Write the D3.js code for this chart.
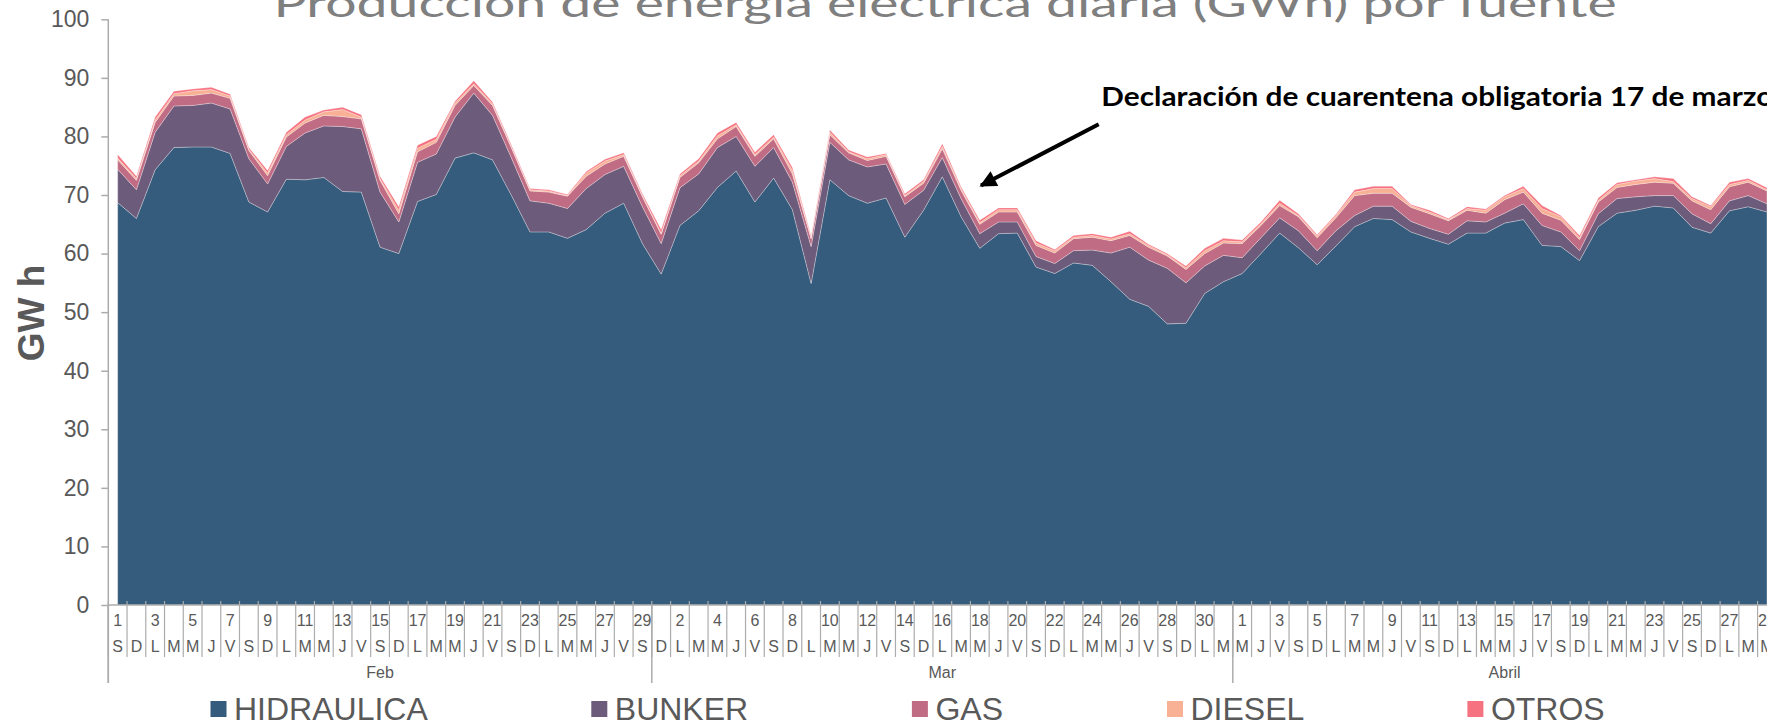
<!DOCTYPE html>
<html><head><meta charset="utf-8">
<script src="https://cdn.jsdelivr.net/npm/d3@7/dist/d3.min.js"></script>
<style>body{margin:0;background:#fff;overflow:hidden} svg{display:block}</style>
</head><body><svg id="c" width="1767" height="722"></svg>
<script>
// ---- Data (GWh per day, 1 Feb 2020 – 29 Apr 2020) ----
const startDate = new Date(2020, 1, 1);
const endDate = new Date(2020, 3, 30); // exclusive
const seriesNames = ["HIDRAULICA", "BUNKER", "GAS", "DIESEL", "OTROS"];
const seriesColors = ["#355C7D", "#6C5B7B", "#C06C84", "#F8B195", "#F67280"];
const weekdayLetters = ["D", "L", "M", "M", "J", "V", "S"];
const monthLabels = ["Feb", "Mar", "Abril"];
const yTicks = [0, 10, 20, 30, 40, 50, 60, 70, 80, 90, 100];

const hidraulica = [68.7,66.0,74.3,78.1,78.2,78.2,77.1,68.8,67.1,72.7,72.6,73.0,70.6,70.5,61.1,60.0,68.9,70.1,76.3,77.2,
  76.0,70.0,63.7,63.7,62.6,64.1,66.9,68.6,61.7,56.5,64.8,67.3,71.3,74.1,68.8,72.9,67.5,54.9,72.6,69.9,
  68.6,69.5,62.8,67.4,73.1,66.3,60.9,63.4,63.5,57.7,56.6,58.4,58.0,55.2,52.2,51.0,48.0,48.1,53.2,55.2,
  56.6,60.0,63.5,61.0,58.1,61.3,64.6,66.0,65.8,63.7,62.6,61.6,63.5,63.5,65.2,65.8,61.4,61.2,58.8,64.6,
  66.9,67.4,68.1,67.8,64.5,63.5,67.3,68.0,67.1];
const bunker = [5.7,4.9,6.4,7.1,7.1,7.5,7.6,7.4,4.8,5.6,8.0,8.8,11.1,10.8,9.4,5.4,6.7,6.9,7.0,10.2,
  7.6,6.4,5.3,4.9,5.1,7.0,6.6,6.3,6.3,5.2,6.45,6.3,6.8,5.9,6.1,5.2,4.7,6.3,6.4,6.1,
  6.2,5.8,5.6,3.4,3.3,3.1,2.5,2.0,1.9,1.8,1.7,2.1,2.6,4.9,8.9,7.9,9.5,6.9,4.7,4.5,
  2.7,2.7,2.6,2.9,2.4,2.6,1.9,2.1,2.3,1.8,1.7,1.7,2.1,1.9,1.7,2.7,3.4,2.5,1.7,2.2,
  2.5,2.3,1.8,2.1,2.3,1.6,1.7,1.9,1.4];
const gas = [1.6,1.6,1.7,1.7,1.7,1.7,1.8,1.4,1.4,1.6,1.7,1.8,1.7,1.7,2.0,1.4,1.8,2.0,2.0,1.3,
  1.7,1.7,1.7,1.9,2.1,2.1,1.8,1.7,1.7,1.6,1.75,1.9,1.5,1.7,1.7,1.5,1.4,1.35,1.3,1.2,
  1.1,1.3,1.3,1.2,1.5,1.4,1.6,1.7,1.7,1.9,1.8,2.05,2.2,2.1,2.0,2.2,2.1,2.3,2.1,2.1,
  2.4,2.1,2.1,2.4,2.2,2.2,3.4,2.2,2.2,2.4,2.5,2.3,1.8,1.5,2.3,2.0,2.1,2.0,1.9,2.0,
  1.9,2.1,2.3,2.1,2.2,2.4,2.4,2.3,2.2];
const diesel = [0.3,0.3,0.4,0.4,0.8,0.6,0.4,0.2,0.45,0.4,0.5,0.6,1.2,0.3,0.3,0.6,0.6,0.5,0.4,0.3,
  0.3,0.2,0.2,0.2,0.1,0.55,0.5,0.3,0.2,0.2,0.3,0.3,0.5,0.3,0.3,0.3,0.6,0.15,0.4,0.2,
  0.3,0.3,0.2,0.3,0.4,0.3,0.3,0.4,0.4,0.4,0.4,0.25,0.3,0.3,0.3,0.3,0.2,0.3,0.5,0.4,
  0.3,0.3,0.4,0.2,0.3,0.4,0.6,0.8,0.8,0.3,0.3,0.2,0.3,0.5,0.5,0.6,0.8,0.6,0.3,0.3,
  0.5,0.6,0.6,0.3,0.4,0.5,0.4,0.3,0.2];
const otros = [0.6,0.4,0.5,0.4,0.3,0.4,0.3,0.3,0.45,0.4,0.5,0.3,0.4,0.4,0.4,0.6,0.5,0.5,0.3,0.5,
  0.3,0.3,0.2,0.2,0.2,0.25,0.3,0.3,0.3,0.6,0.3,0.4,0.5,0.4,0.4,0.4,0.5,0.3,0.4,0.3,
  0.3,0.2,0.3,0.3,0.45,0.3,0.4,0.3,0.3,0.4,0.2,0.3,0.3,0.3,0.4,0.2,0.2,0.3,0.4,0.4,
  0.3,0.3,0.5,0.3,0.2,0.2,0.4,0.4,0.4,0.2,0.3,0.2,0.3,0.2,0.2,0.4,0.5,0.2,0.4,0.4,
  0.3,0.2,0.3,0.5,0.3,0.2,0.4,0.3,0.35];

// ---- Layout ----
const svg = d3.select("#c");
const days = d3.timeDay.range(startDate, endDate);
const n = days.length;
const plotLeft = 108.3, dayW = 18.742, baseY = 605, topY = 19.3;
const x = d3.scaleBand().domain(d3.range(n)).range([plotLeft, plotLeft + n * dayW]).padding(0);
const bw = x.bandwidth();
const y = d3.scaleLinear().domain([0, 100]).range([baseY, topY]);
const axisColor = "#acacac", textColor = "#595959";

const rows = days.map((d, i) => ({
  HIDRAULICA: hidraulica[i], BUNKER: bunker[i], GAS: gas[i], DIESEL: diesel[i], OTROS: otros[i]
}));
const stacked = d3.stack().keys(seriesNames)(rows);
const area = d3.area()
  .x((d, i) => x(i) + bw / 2)
  .y0(d => y(d[0]))
  .y1(d => y(d[1]));

svg.append("g").selectAll("path").data(stacked).join("path")
  .attr("d", area)
  .attr("fill", (d, i) => seriesColors[i])
  .attr("stroke", "rgba(255,255,255,0.28)")
  .attr("stroke-width", 1);

// ---- Y axis ----
const yAxis = svg.append("g").attr("transform", `translate(${plotLeft},0)`)
  .call(d3.axisLeft(y).tickValues(yTicks).tickSize(7).tickSizeOuter(0).tickPadding(12));
yAxis.select(".domain").remove();
yAxis.selectAll(".tick line").attr("stroke", axisColor).attr("stroke-width", 1.5);
yAxis.selectAll(".tick text").attr("fill", textColor)
  .style("font-family", "'Liberation Sans', Arial, sans-serif").style("font-size", "23px");
svg.append("line").attr("x1", plotLeft).attr("x2", plotLeft).attr("y1", topY).attr("y2", 683)
  .attr("stroke", axisColor).attr("stroke-width", 1.5);

svg.append("text")
  .attr("transform", "translate(31,313) rotate(-90)")
  .attr("text-anchor", "middle").attr("dy", "0.36em")
  .attr("fill", textColor)
  .style("font-family", "'Liberation Sans', Arial, sans-serif")
  .style("font-size", "37px").style("font-weight", "bold")
  .text("GW h");

// ---- X axis (multi-level categories) ----
const xa = svg.append("g");
xa.append("line").attr("x1", plotLeft).attr("x2", plotLeft + n * dayW)
  .attr("y1", baseY).attr("y2", baseY).attr("stroke", axisColor).attr("stroke-width", 1.5);
const bounds = d3.range(n + 1);
xa.selectAll("line.tk").data(bounds).join("line").attr("class", "tk")
  .attr("x1", i => plotLeft + i * bw).attr("x2", i => plotLeft + i * bw)
  .attr("y1", baseY - 4).attr("y2", baseY)
  .attr("stroke", axisColor).attr("stroke-width", 1.2);
xa.selectAll("line.sep").data(bounds).join("line").attr("class", "sep")
  .attr("x1", i => plotLeft + i * bw).attr("x2", i => plotLeft + i * bw)
  .attr("y1", baseY).attr("y2", 657)
  .attr("stroke", axisColor).attr("stroke-width", 1.2);

const monthStarts = days.map((d, i) => ({ d, i })).filter(o => o.d.getDate() === 1);
xa.selectAll("line.msep").data(monthStarts.concat([{ i: n }])).join("line").attr("class", "msep")
  .attr("x1", o => plotLeft + o.i * bw).attr("x2", o => plotLeft + o.i * bw)
  .attr("y1", baseY).attr("y2", 683)
  .attr("stroke", axisColor).attr("stroke-width", 1.5);

const lblFont = "'Liberation Sans', Arial, sans-serif";
xa.selectAll("text.dnum").data(days.map((d, i) => ({ d, i })).filter(o => o.i % 2 === 0))
  .join("text").attr("class", "dnum")
  .attr("x", o => x(o.i) + bw / 2).attr("y", 626)
  .attr("text-anchor", "middle").attr("fill", textColor)
  .style("font-family", lblFont).style("font-size", "16px")
  .text(o => o.d.getDate());
xa.selectAll("text.wd").data(days)
  .join("text").attr("class", "wd")
  .attr("x", (d, i) => x(i) + bw / 2).attr("y", 652)
  .attr("text-anchor", "middle").attr("fill", textColor)
  .style("font-family", lblFont).style("font-size", "16px")
  .text(d => weekdayLetters[d.getDay()]);
xa.selectAll("text.mo").data(monthStarts)
  .join("text").attr("class", "mo")
  .attr("x", (o, k) => {
    const endI = k + 1 < monthStarts.length ? monthStarts[k + 1].i : n;
    return plotLeft + (o.i + endI) / 2 * bw;
  })
  .attr("y", 678)
  .attr("text-anchor", "middle").attr("fill", textColor)
  .style("font-family", lblFont).style("font-size", "16px")
  .text((o, k) => monthLabels[k]);

// ---- Title (partly outside the frame, as in the source) ----
svg.append("text")
  .attr("x", 273.6).attr("y", 16.7)
  .attr("textLength", 1343).attr("lengthAdjust", "spacingAndGlyphs")
  .attr("fill", "#7f7f7f")
  .style("font-family", "Lato, 'Open Sans', sans-serif").style("font-size", "38px")
  .text("Producción de energía eléctrica diaria (GWh) por fuente");

// ---- Annotation ----
svg.append("text")
  .attr("x", 1101.3).attr("y", 106)
  .attr("textLength", 672).attr("lengthAdjust", "spacingAndGlyphs")
  .attr("fill", "#000")
  .style("font-family", "Lato, 'Open Sans', sans-serif").style("font-size", "27px").style("font-weight", "bold")
  .text("Declaración de cuarentena obligatoria 17 de marzo");
const defs = svg.append("defs");
defs.append("marker").attr("id", "ah").attr("viewBox", "0 0 10 10")
  .attr("refX", 9).attr("refY", 5).attr("markerWidth", 5).attr("markerHeight", 4.2)
  .attr("orient", "auto").attr("markerUnits", "strokeWidth")
  .append("path").attr("d", "M0,0 L10,5 L0,10 z").attr("fill", "#000");
svg.append("line")
  .attr("x1", 1098.7).attr("y1", 124.3).attr("x2", 981).attr("y2", 185.6)
  .attr("stroke", "#000").attr("stroke-width", 4)
  .attr("marker-end", "url(#ah)");

// ---- Legend ----
const legendX = [210.5, 591.3, 911.9, 1167, 1467.4];
const lg = svg.append("g").selectAll("g").data(seriesNames).join("g")
  .attr("transform", (d, i) => `translate(${legendX[i]},0)`);
lg.append("rect").attr("x", 0).attr("y", 701).attr("width", 16).attr("height", 16)
  .attr("fill", (d, i) => seriesColors[i]);
lg.append("text").attr("x", 23.5).attr("y", 719.5)
  .attr("fill", textColor)
  .style("font-family", lblFont).style("font-size", "32px")
  .text(d => d);
</script></body></html>
